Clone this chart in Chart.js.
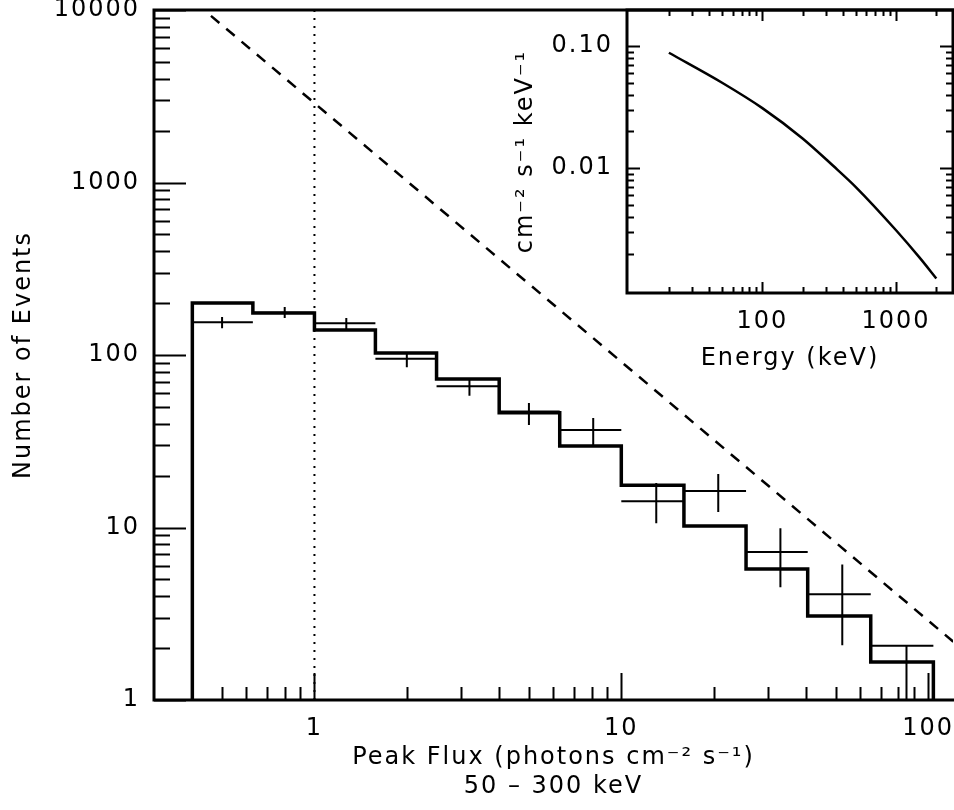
<!DOCTYPE html>
<html><head><meta charset="utf-8">
<script src="https://cdn.jsdelivr.net/npm/chart.js@4"></script>
<style>
html,body{margin:0;padding:0;background:#fff;}
#wrap{position:relative;width:954px;height:810px;overflow:hidden;background:#fff;}
#main{position:absolute;left:0;top:0;}
#inset{position:absolute;left:480px;top:0;}
</style></head><body>
<div id="wrap"><canvas id="main" width="954" height="810"></canvas><canvas id="inset" width="474" height="390"></canvas></div>
<script>
// ---- Main panel data (peak flux distribution) ----
const binEdges = [0.4, 0.63, 1.0, 1.58, 2.5, 4.0, 6.3, 10, 16, 25.5, 40.5, 65, 104];
const modelCounts = [200, 175, 139.6, 102.7, 72.5, 46.3, 29.7, 17.6, 10.2, 5.75, 3.07, 1.66];
const observedCounts = [155, 176, 153, 95, 66, 47, 36.7, 14.2, 16.3, 7.2, 4.1, 2.06];
const crossFlux = [0.5, 0.8, 1.27, 2.0, 3.2, 5.0, 8.1, 13, 20.7, 33, 52.5, 85];
const errLow = [143, 164, 140, 85, 58, 39.3, 30.1, 10.6, 12.3, 4.5, 2.08, 0.5];
const errHigh = [166, 190, 164, 103, 73.6, 52.7, 43.1, 18.1, 20.4, 9.9, 6.1, 2.06];
const euclidFlux = [0.46, 121];
const euclidCounts = [9250, 2.17];
const thresholdFlux = [1, 1];
const thresholdCounts = [1, 10000];

// ---- Main panel axes / ticks ----
const mainXRange = [0.304, 120.5];
const mainYRange = [1, 10000];
const mainXLabelVals = [1, 10, 100];
const mainXLabels = ['1', '10', '100'];
const mainYLabelVals = [1, 10, 100, 1000, 10000];
const mainYLabels = ['1', '10', '100', '1000', '10000'];
const mainXMinor = [0.4,0.5,0.6,0.7,0.8,0.9, 2,3,4,5,6,7,8,9, 20,30,40,50,60,70,80,90];
const mainYMinor = [2,3,4,5,6,7,8,9, 20,30,40,50,60,70,80,90, 200,300,400,500,600,700,800,900, 2000,3000,4000,5000,6000,7000,8000,9000];

// ---- Inset data (spectrum) ----
const specEnergy = [20, 50, 100, 200, 340, 500, 1000, 1500, 2000];
const specFlux = [0.088, 0.050, 0.031, 0.0175, 0.0104, 0.0070, 0.0031, 0.00185, 0.00125];
const insetXRange = [9.72, 2666];
const insetYRange = [0.00095, 0.197];
const insetXLabelVals = [100, 1000];
const insetXLabels = ['100', '1000'];
const insetYLabelVals = [0.01, 0.1];
const insetYLabels = ['0.01', '0.10'];
const insetXMinor = [20,30,40,50,60,70,80,90, 200,300,400,500,600,700,800,900, 2000];
const insetYMinor = [0.002,0.003,0.004,0.005,0.006,0.007,0.008,0.009, 0.02,0.03,0.04,0.05,0.06,0.07,0.08,0.09];

const FONT = 'DejaVu Sans';
Chart.defaults.font.family = FONT;
Chart.defaults.color = '#000';

function makeTicks(majors, minors) {
  return majors.map(v => ({value: v, major: true}))
    .concat(minors.map(v => ({value: v, major: false})))
    .sort((a, b) => a.value - b.value);
}
function labeler(vals, labels) {
  return function(value) { const i = vals.indexOf(value); return i >= 0 ? labels[i] : ''; };
}

const spacingPlugin = { id: 'spacing', beforeDraw(chart) { chart.ctx.letterSpacing = '2px'; } };

function framePlugin(cfg) {
  return {
    id: 'frame',
    afterDatasetsDraw(chart) {
      const {ctx, chartArea: a, scales: {x, y}} = chart;
      ctx.save();
      ctx.letterSpacing = '0px';
      ctx.strokeStyle = '#000';
      ctx.lineCap = 'square';
      ctx.lineWidth = cfg.borderWidth;
      ctx.beginPath();
      if (cfg.left) { ctx.moveTo(a.left, a.top); ctx.lineTo(a.left, a.bottom); }
      if (cfg.bottom) { ctx.moveTo(a.left, a.bottom); ctx.lineTo(a.right, a.bottom); }
      if (cfg.top) { ctx.moveTo(a.left, a.top); ctx.lineTo(a.right, a.top); }
      if (cfg.right) { ctx.moveTo(a.right, a.top); ctx.lineTo(a.right, a.bottom); }
      ctx.stroke();
      ctx.lineCap = 'butt';
      ctx.lineWidth = cfg.tickWidth;
      ctx.beginPath();
      for (const t of x.ticks) {
        const px = Math.round(x.getPixelForValue(t.value)) + 0.5;
        const len = t.major ? cfg.xMajor : cfg.xMinor;
        if (cfg.bottom) { ctx.moveTo(px, a.bottom); ctx.lineTo(px, a.bottom - len); }
        if (cfg.topTicks) { ctx.moveTo(px, a.top); ctx.lineTo(px, a.top + len); }
      }
      for (const t of y.ticks) {
        const py = Math.round(y.getPixelForValue(t.value)) + 0.5;
        const len = t.major ? cfg.yMajor : cfg.yMinor;
        if (cfg.left) { ctx.moveTo(a.left, py); ctx.lineTo(a.left + len, py); }
        if (cfg.rightTicks) { ctx.moveTo(a.right, py); ctx.lineTo(a.right - len, py); }
      }
      ctx.stroke();
      ctx.restore();
    }
  };
}

// ---- Build main datasets from arrays ----
const histPts = [{x: binEdges[0], y: mainYRange[0]}];
modelCounts.forEach((v, i) => { histPts.push({x: binEdges[i], y: v}, {x: binEdges[i + 1], y: v}); });
histPts.push({x: binEdges[binEdges.length - 1], y: mainYRange[0]});

const crossPts = [];
observedCounts.forEach((v, i) => {
  crossPts.push({x: binEdges[i], y: v}, {x: binEdges[i + 1], y: v}, {x: binEdges[i + 1], y: null});
  crossPts.push({x: crossFlux[i], y: errLow[i]}, {x: crossFlux[i], y: errHigh[i]}, {x: crossFlux[i], y: null});
});

const euclidPts = euclidFlux.map((f, i) => ({x: f, y: euclidCounts[i]}));
const threshPts = thresholdFlux.map((f, i) => ({x: f, y: thresholdCounts[i]}));

new Chart(document.getElementById('main'), {
  type: 'line',
  data: {
    datasets: [
      {data: threshPts, borderColor: '#000', borderWidth: 2, borderDash: [2, 6], pointRadius: 0},
      {data: euclidPts, borderColor: '#000', borderWidth: 2.5, borderDash: [11, 9], pointRadius: 0},
      {data: histPts, borderColor: '#000', borderWidth: 3.5, pointRadius: 0, borderJoinStyle: 'miter'},
      {data: crossPts, borderColor: '#000', borderWidth: 2, pointRadius: 0, spanGaps: false}
    ]
  },
  options: {
    responsive: false, animation: false, events: [],
    layout: {padding: {left: 0, right: 1, top: 10, bottom: 0}},
    plugins: {legend: {display: false}, tooltip: {enabled: false}},
    scales: {
      x: {
        type: 'logarithmic', min: mainXRange[0], max: mainXRange[1],
        afterBuildTicks: s => { s.ticks = makeTicks(mainXLabelVals, mainXMinor); },
        afterFit: s => { s.height = 110; s.paddingLeft = 0; s.paddingRight = 0; },
        grid: {display: false, drawTicks: false}, border: {display: false},
        ticks: {autoSkip: false, maxRotation: 0, minRotation: 0, padding: 14, color: '#000',
          font: {size: 24}, callback: labeler(mainXLabelVals, mainXLabels)},
        title: {display: true, text: ['Peak Flux (photons cm\u207B\u00B2 s\u207B\u00B9)', '50 \u2013 300 keV'],
          color: '#000', font: {size: 24, lineHeight: 1.21}, padding: {top: 0, bottom: 9}}
      },
      y: {
        type: 'logarithmic', min: mainYRange[0], max: mainYRange[1],
        afterBuildTicks: s => { s.ticks = makeTicks(mainYLabelVals, mainYMinor); },
        afterFit: s => { s.width = 154; s.paddingTop = 0; s.paddingBottom = 0; },
        grid: {display: false, drawTicks: false}, border: {display: false},
        ticks: {autoSkip: false, padding: 14, color: '#000', font: {size: 24},
          callback: labeler(mainYLabelVals, mainYLabels)},
        title: {display: true, text: 'Number of Events', color: '#000', font: {size: 24, lineHeight: 1.2},
          padding: {top: 9, bottom: 0}}
      }
    }
  },
  plugins: [spacingPlugin, framePlugin({borderWidth: 3, tickWidth: 2, left: true, bottom: true, top: true,
    right: false, topTicks: false, rightTicks: false, xMajor: 27, xMinor: 13, yMajor: 32, yMinor: 16})]
});

// ---- Inset ----
const specPts = specEnergy.map((e, i) => ({x: e, y: specFlux[i]}));
new Chart(document.getElementById('inset'), {
  type: 'line',
  data: {datasets: [{data: specPts, borderColor: '#000', borderWidth: 2.5, pointRadius: 0, cubicInterpolationMode: 'monotone'}]},
  options: {
    responsive: false, animation: false, events: [],
    layout: {padding: {left: 0, right: 1, top: 10, bottom: 0}},
    plugins: {legend: {display: false}, tooltip: {enabled: false}},
    scales: {
      x: {
        type: 'logarithmic', min: insetXRange[0], max: insetXRange[1],
        afterBuildTicks: s => { s.ticks = makeTicks(insetXLabelVals, insetXMinor); },
        afterFit: s => { s.height = 97; s.paddingLeft = 0; s.paddingRight = 0; },
        grid: {display: false, drawTicks: false}, border: {display: false},
        ticks: {autoSkip: false, maxRotation: 0, minRotation: 0, padding: 14, color: '#000',
          font: {size: 24}, callback: labeler(insetXLabelVals, insetXLabels)},
        title: {display: true, text: 'Energy (keV)', color: '#000', font: {size: 24, lineHeight: 1.2},
          padding: {top: 0, bottom: 17}}
      },
      y: {
        type: 'logarithmic', min: insetYRange[0], max: insetYRange[1],
        afterBuildTicks: s => { s.ticks = makeTicks(insetYLabelVals, insetYMinor); },
        afterFit: s => { s.width = 147; s.paddingTop = 0; s.paddingBottom = 0; },
        grid: {display: false, drawTicks: false}, border: {display: false},
        ticks: {autoSkip: false, padding: 14, color: '#000', font: {size: 24},
          callback: labeler(insetYLabelVals, insetYLabels)},
        title: {display: true, text: 'cm\u207B\u00B2 s\u207B\u00B9 keV\u207B\u00B9', color: '#000',
          font: {size: 24, lineHeight: 1.2}, padding: {top: 31, bottom: 0}}
      }
    }
  },
  plugins: [spacingPlugin, framePlugin({borderWidth: 3, tickWidth: 2, left: true, bottom: true, top: true,
    right: true, topTicks: true, rightTicks: true, xMajor: 11, xMinor: 6, yMajor: 13, yMinor: 7})]
});
</script>
</body></html>
